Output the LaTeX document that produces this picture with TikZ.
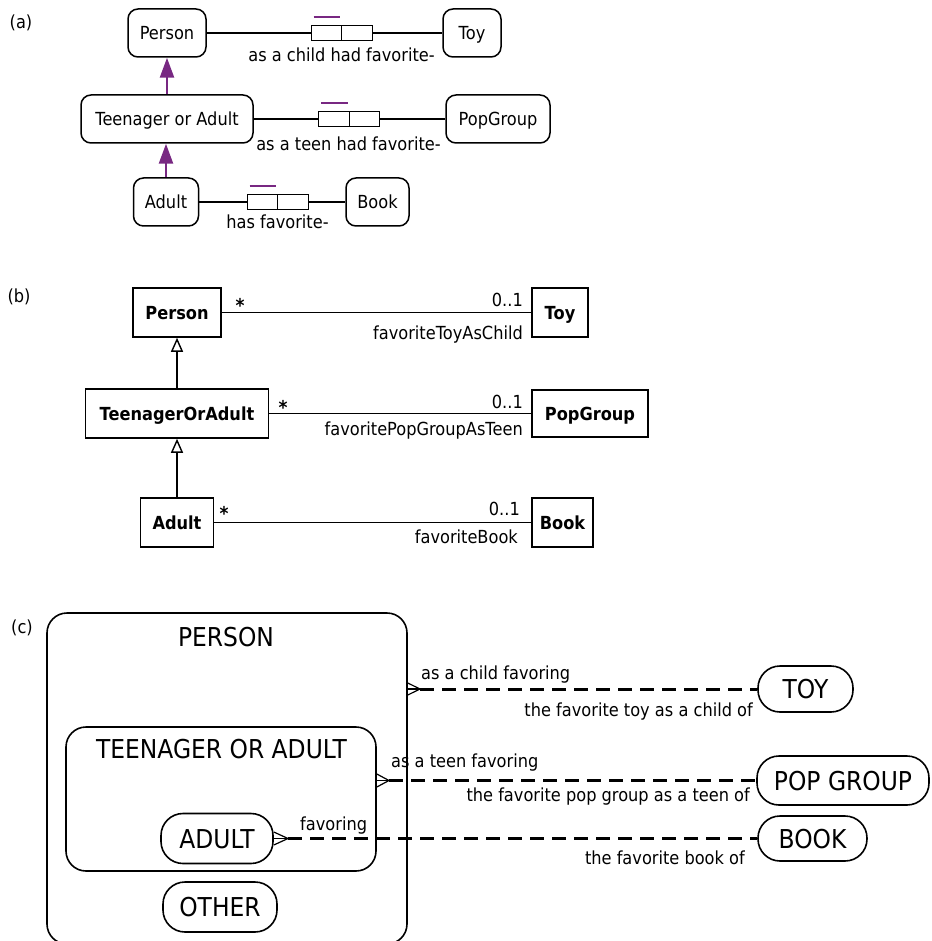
\documentclass[tikz,border=0pt]{standalone}
\usepackage{fontspec}
\setmainfont{DejaVu Sans}[FakeStretch=0.9]
\usetikzlibrary{arrows.meta}
\definecolor{ormpurple}{RGB}{120,40,130}
\tikzset{
 sm/.style={font=\fontsize{18}{20}\selectfont},
 big/.style={font=\fontsize{26}{28}\selectfont},
 ormbox/.style={draw, line width=1.5pt, rounded corners=10pt, sm, inner sep=0pt, text height=13.5pt, text depth=0pt, minimum height=48pt},
 rolebox/.style={draw, line width=1.3pt, inner sep=0pt, minimum width=30.5pt, minimum height=15.5pt},
 umlbox/.style={draw, line width=1.5pt, font=\fontsize{18}{20}\selectfont\bfseries, inner sep=0pt, text height=13.5pt, text depth=0pt, minimum height=49pt},
 lbl/.style={sm, inner sep=0pt},
 star/.style={font=\fontsize{19}{20}\selectfont\bfseries, inner sep=0pt},
 conn/.style={line width=1.4pt},
 subarrow/.style={draw=ormpurple, line width=2.5pt, -{Triangle[length=20pt,width=14pt]}},
 genarrow/.style={line width=1.4pt, -{Triangle[open,length=14pt,width=12pt]}},
 barline/.style={draw=ormpurple, line width=2.2pt},
 region/.style={draw, line width=1.6pt, rounded corners=20pt},
 pill/.style={draw, line width=1.6pt, big, inner sep=0pt, text height=19pt, text depth=0pt, rounded corners=22pt},
 crow/.style={line width=1.2pt},
 rel/.style={line width=3pt, dash pattern=on 14pt off 8pt},
}
\begin{document}
\begin{tikzpicture}[x=1pt,y=-1pt]
\useasboundingbox (0,0) rectangle (931,941);
% ---------------- (a)
\node[lbl] (labA) at (21,23) {(a)};
\node[ormbox, minimum width=78pt] (PersonA) at (167,33) {Person};
\node[ormbox, minimum width=58pt] (ToyA) at (472,33) {Toy};
\node[ormbox, minimum width=172pt] (TeenA) at (167,119) {Teenager or Adult};
\node[ormbox, minimum width=104pt] (PopA) at (498,119) {PopGroup};
\node[ormbox, minimum width=65pt] (AdultA) at (166,202) {Adult};
\node[ormbox, minimum width=63pt] (BookA) at (377.5,202) {Book};
\node[rolebox] (r1l) at (326.5,33) {};
\node[rolebox] (r1r) at (357,33) {};
\node[rolebox] (r2l) at (334,119) {};
\node[rolebox] (r2r) at (364.5,119) {};
\node[rolebox] (r3l) at (262.5,202) {};
\node[rolebox] (r3r) at (293,202) {};
\draw[conn] (PersonA) -- (r1l);
\draw[conn] (r1r) -- (ToyA);
\draw[conn] (TeenA) -- (r2l);
\draw[conn] (r2r) -- (PopA);
\draw[conn] (AdultA) -- (r3l);
\draw[conn] (r3r) -- (BookA);
\draw[barline] ([xshift=3pt,yshift=7.5pt]r1l.north west) -- ([xshift=-2pt,yshift=7.5pt]r1l.north east);
\draw[barline] ([xshift=3pt,yshift=7.5pt]r2l.north west) -- ([xshift=-2pt,yshift=7.5pt]r2l.north east);
\draw[barline] ([xshift=3pt,yshift=7.5pt]r3l.north west) -- ([xshift=-2pt,yshift=7.5pt]r3l.north east);
\node[lbl, anchor=base] (la1) at (341.5,62) {as a child had favorite-};
\node[lbl, anchor=base] (la2) at (348.5,151) {as a teen had favorite-};
\node[lbl, anchor=base] (la3) at (277.5,229) {has favorite-};
\draw[subarrow] (TeenA.north) -- (PersonA.south);
\draw[subarrow] (AdultA.north) -- (AdultA.north |- TeenA.south);
% ---------------- (b)
\node[lbl] (labB) at (19,297) {(b)};
\node[umlbox, minimum width=88pt] (PersonB) at (177,312.5) {Person};
\node[umlbox, minimum width=56pt] (ToyB) at (560,312.5) {Toy};
\node[umlbox, minimum width=183pt] (TeenB) at (177,413.5) {TeenagerOrAdult};
\node[umlbox, minimum width=116pt, minimum height=47pt] (PopB) at (590,413.5) {PopGroup};
\node[umlbox, minimum width=73pt] (AdultB) at (177,522.5) {Adult};
\node[umlbox, minimum width=61pt] (BookB) at (562.5,522.5) {Book};
\draw[conn] (PersonB) -- (ToyB);
\draw[conn] (TeenB) -- (PopB);
\draw[conn] (AdultB) -- (BookB);
\draw[genarrow] (TeenB) -- (PersonB);
\draw[genarrow] (AdultB) -- (TeenB);
\node[star, anchor=base] (sB1) at (240,312.5) {*};
\node[star, anchor=base] (sB2) at (283,414.5) {*};
\node[star, anchor=base] (sB3) at (224,520) {*};
\node[lbl, anchor=base east] (mB1) at (523,306) {0..1};
\node[lbl, anchor=base east] (mB2) at (523,408) {0..1};
\node[lbl, anchor=base east] (mB3) at (520,515) {0..1};
\node[lbl, anchor=base east] (nB1) at (523,339) {favoriteToyAsChild};
\node[lbl, anchor=base east] (nB2) at (523,435) {favoritePopGroupAsTeen};
\node[lbl, anchor=base east] (nB3) at (518,543) {favoriteBook};
% ---------------- (c)
\node[lbl] (labC) at (22,628) {(c)};
\node[region, minimum width=360pt, minimum height=331pt] (PersonC) at (227,778.5) {};
\node[big, inner sep=0pt, anchor=base] (PersonT) at (226,646) {PERSON};
\node[region, minimum width=310pt, minimum height=144pt] (TeenC) at (221,799) {};
\node[big, inner sep=0pt, anchor=base] (TeenT) at (221.5,758) {TEENAGER OR ADULT};
\node[pill, minimum width=112pt, minimum height=50pt] (AdultC) at (217,838.5) {ADULT};
\node[pill, minimum width=114pt, minimum height=50pt] (OtherC) at (220,907) {OTHER};
\node[pill, minimum width=95pt, minimum height=46pt] (ToyC) at (805.5,689) {TOY};
\node[pill, minimum width=172pt, minimum height=49pt] (PopC) at (843,780.5) {POP GROUP};
\node[pill, minimum width=109pt, minimum height=45pt] (BookC) at (812.5,838.5) {BOOK};
% crow's feet and relationships
\coordinate (cfP) at (420,689);
\coordinate (eP) at (PersonC.east |- cfP);
\draw[crow] ([yshift=6pt]eP) -- (cfP) -- ([yshift=-6pt]eP);
\draw[crow] (eP) -- (cfP);
\draw[rel] (cfP) -- (ToyC);
\coordinate (cfT) at (389,780.5);
\coordinate (eT) at (TeenC.east |- cfT);
\draw[crow] ([yshift=6.5pt]eT) -- (cfT) -- ([yshift=-6.5pt]eT);
\draw[crow] (eT) -- (cfT);
\draw[rel] (cfT) -- (PopC);
\coordinate (cfA) at (288,838.5);
\coordinate (eA) at (AdultC.east |- cfA);
\draw[crow] ([yshift=6.5pt]eA) -- (cfA) -- ([yshift=-6.5pt]eA);
\draw[crow] (eA) -- (cfA);
\draw[rel] (cfA) -- (BookC);
\node[lbl, anchor=base west] (lc1) at (421,679) {as a child favoring};
\node[lbl, anchor=base east] (lc2) at (753,716) {the favorite toy as a child of};
\node[lbl, anchor=base west] (lc3) at (391,767) {as a teen favoring};
\node[lbl, anchor=base east] (lc4) at (750,801) {the favorite pop group as a teen of};
\node[lbl, anchor=base west] (lc5) at (300,830) {favoring};
\node[lbl, anchor=base east] (lc6) at (745,864) {the favorite book of};
\end{tikzpicture}
\end{document}
